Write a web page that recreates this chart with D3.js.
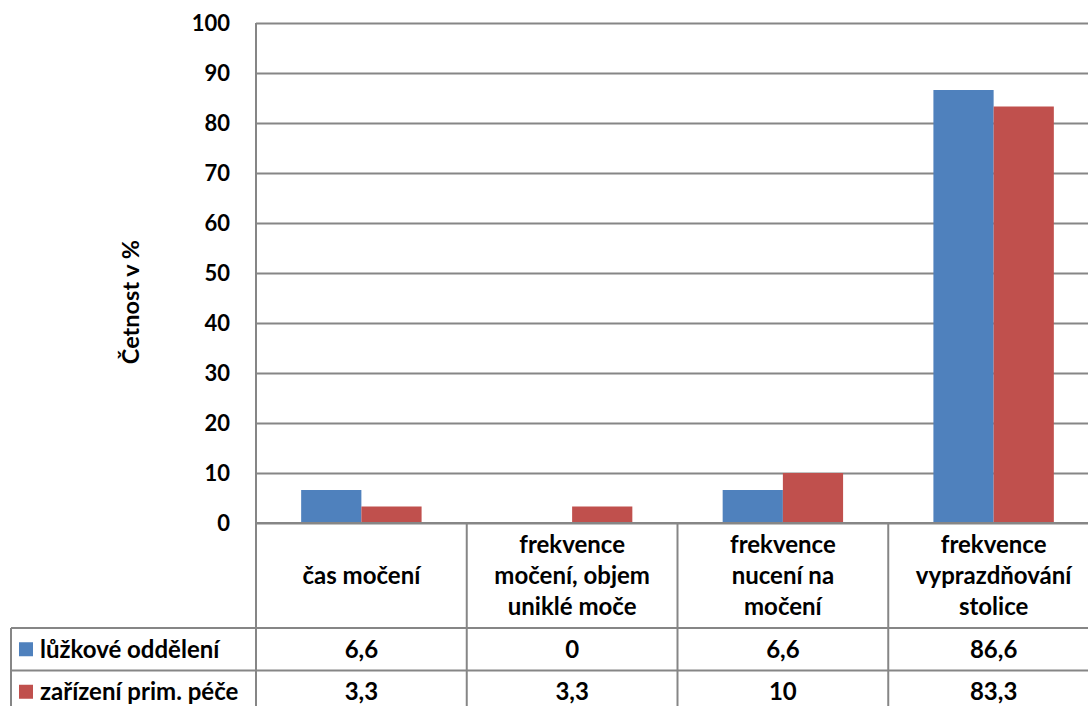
<!DOCTYPE html>
<html>
<head>
<meta charset="utf-8">
<script src="https://cdn.jsdelivr.net/npm/d3@7"></script>
<style>
  html, body { margin: 0; padding: 0; background: #fff; }
  svg { display: block; }
  text { font-family: Lato, "Open Sans", sans-serif; font-weight: bold; fill: #000; }
</style>
</head>
<body>
<svg id="chart" width="1088" height="706"></svg>
<script>
// Categories (each entry is the lines of its wrapped label)
const categories = [
  ["čas močení"],
  ["frekvence", "močení, objem", "uniklé moče"],
  ["frekvence", "nucení na", "močení"],
  ["frekvence", "vyprazdňování", "stolice"]
];
const seriesNames = ["lůžkové oddělení", "zařízení prim. péče"];
const seriesColors = ["#4F81BD", "#C0504D"];
const luzkoveValues = [6.6, 0, 6.6, 86.6];
const zarizeniValues = [3.3, 3.3, 10, 83.3];
const yTicks = [0, 10, 20, 30, 40, 50, 60, 70, 80, 90, 100];
const yTitle = "Četnost v %";

const series = [luzkoveValues, zarizeniValues];

const svg = d3.select("#chart");
const gridColor = "#868686";

const plot = { left: 256, right: 1099, top: 23, bottom: 523 };
const table = { left: 11, catBottom: 628, rowH: 42.5 };

const csLocale = d3.formatLocale({ decimal: ",", thousands: " ", grouping: [3], currency: ["", " Kč"] });
const fmt = csLocale.format("~g");

const catIdx = categories.map((_, i) => i);
const x = d3.scaleBand().domain(catIdx).range([plot.left, plot.right]).paddingInner(0).paddingOuter(0);
const xs = d3.scaleBand().domain(d3.range(series.length)).range([0, x.bandwidth()]).paddingInner(0).paddingOuter(0.75);
const y = d3.scaleLinear().domain([0, 100]).range([plot.bottom, plot.top]);

// Gridlines and y tick labels
const yAxis = d3.axisLeft(y).tickValues(yTicks).tickSize(-(plot.right - plot.left)).tickPadding(26).tickFormat(d3.format("d"));
const gy = svg.append("g").attr("transform", `translate(${plot.left},0)`).call(yAxis);
gy.select(".domain").remove();
gy.selectAll(".tick line").attr("stroke", gridColor).attr("stroke-width", 2);
gy.selectAll(".tick text").style("font-size", "22px").attr("fill", "#000").attr("dy", "0.36em");

// Bars
series.forEach((vals, si) => {
  svg.append("g").selectAll("rect").data(vals).join("rect")
    .attr("x", (d, i) => x(i) + xs(si))
    .attr("y", d => y(d))
    .attr("width", xs.bandwidth())
    .attr("height", d => y(0) - y(d))
    .attr("fill", seriesColors[si]);
});

// Axis lines
const rowsBottom = table.catBottom + table.rowH * series.length;
svg.append("line").attr("x1", plot.left).attr("x2", plot.left).attr("y1", plot.top).attr("y2", rowsBottom)
  .attr("stroke", gridColor).attr("stroke-width", 2);
svg.append("line").attr("x1", plot.left).attr("x2", plot.right).attr("y1", plot.bottom).attr("y2", plot.bottom)
  .attr("stroke", gridColor).attr("stroke-width", 2);

// Data table: column separators
const bounds = catIdx.map(i => x(i) + x.bandwidth());
svg.append("g").selectAll("line").data(bounds).join("line")
  .attr("x1", d => d).attr("x2", d => d)
  .attr("y1", plot.bottom).attr("y2", rowsBottom)
  .attr("stroke", gridColor).attr("stroke-width", 2);

// Data table: row separators and left border
d3.range(series.length + 1).forEach(r => {
  const yy = table.catBottom + r * table.rowH;
  svg.append("line").attr("x1", table.left).attr("x2", plot.right).attr("y1", yy).attr("y2", yy)
    .attr("stroke", gridColor).attr("stroke-width", 2);
});
svg.append("line").attr("x1", table.left).attr("x2", table.left).attr("y1", table.catBottom).attr("y2", rowsBottom)
  .attr("stroke", gridColor).attr("stroke-width", 2);

// Category labels
const lineH = 31;
const catMid = (plot.bottom + table.catBottom) / 2;
categories.forEach((lines, i) => {
  const t = svg.append("text")
    .attr("x", x(i) + x.bandwidth() / 2)
    .attr("text-anchor", "middle")
    .style("font-size", "24px");
  lines.forEach((ln, k) => {
    t.append("tspan")
      .attr("x", x(i) + x.bandwidth() / 2)
      .attr("y", catMid + (k - (lines.length - 1) / 2) * lineH)
      .attr("dy", "0.36em")
      .text(ln);
  });
});

// Series rows: legend key, name and values
series.forEach((vals, si) => {
  const rowMid = table.catBottom + (si + 0.5) * table.rowH;
  svg.append("rect").attr("x", 19).attr("y", rowMid - 7).attr("width", 14).attr("height", 14)
    .attr("fill", seriesColors[si]);
  svg.append("text").attr("x", 40).attr("y", rowMid).attr("dy", "0.36em")
    .style("font-size", "24px").text(seriesNames[si]);
  svg.append("g").selectAll("text").data(vals).join("text")
    .attr("x", (d, i) => x(i) + x.bandwidth() / 2)
    .attr("y", rowMid).attr("dy", "0.36em")
    .attr("text-anchor", "middle")
    .style("font-size", "24px")
    .text(d => fmt(d));
});

// Y axis title
svg.append("text")
  .attr("transform", `translate(131,${(plot.top + plot.bottom) / 2 + 29}) rotate(-90)`)
  .attr("text-anchor", "middle")
  .attr("dy", "0.36em")
  .style("font-size", "23.5px")
  .text(yTitle);
</script>
</body>
</html>
